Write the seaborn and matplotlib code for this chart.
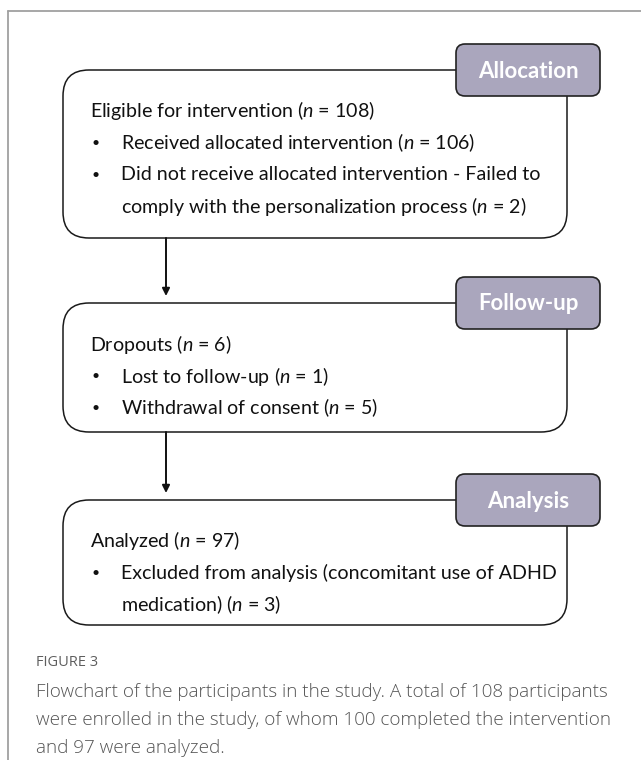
import matplotlib
matplotlib.use("Agg")
import matplotlib.pyplot as plt
import seaborn as sns
from matplotlib.patches import FancyBboxPatch

# flowchart content
stages = ['Allocation', 'Follow-up', 'Analysis']
headers = ['Eligible for intervention ($n$ = 108)',
           'Dropouts ($n$ = 6)',
           'Analyzed ($n$ = 97)']
bullets = [
    ['Received allocated intervention ($n$ = 106)',
     'Did not receive allocated intervention - Failed to\ncomply with the personalization process ($n$ = 2)'],
    ['Lost to follow-up ($n$ = 1)',
     'Withdrawal of consent ($n$ = 5)'],
    ['Excluded from analysis (concomitant use of ADHD\nmedication) ($n$ = 3)'],
]
caption_label = 'FIGURE 3'
caption = ['Flowchart of the participants in the study. A total of 108 participants',
           'were enrolled in the study, of whom 100 completed the intervention',
           'and 97 were analyzed.']

# box layout in pixels (top, bottom)
box_y = [(70, 238), (303, 432), (500, 625)]
box_x = (63, 567)
lab_x = (456, 600)
lab_h = 52
line_h = 32
fs = 14.1

sns.set_style('white')
plt.rcParams['font.family'] = ['Lato', 'DejaVu Sans']
plt.rcParams['mathtext.fontset'] = 'custom'
plt.rcParams['mathtext.rm'] = 'Lato'
plt.rcParams['mathtext.it'] = 'Lato:italic'

fig = plt.figure(figsize=(6.41, 7.6), dpi=100)
ax = fig.add_axes([0, 0, 1, 1])
ax.set_xlim(0, 641)
ax.set_ylim(760, 0)
ax.axis('off')

# outer frame (top and left only)
ax.plot([8, 641], [11, 11], color='#a0a0a0', lw=1.3)
ax.plot([8, 8], [11, 760], color='#a0a0a0', lw=1.3)

for i, (top, bot) in enumerate(box_y):
    box = FancyBboxPatch((box_x[0], top), box_x[1] - box_x[0], bot - top,
                         boxstyle='round,pad=0,rounding_size=26',
                         fc='white', ec='#1a1a1a', lw=1.1, zorder=2)
    ax.add_patch(box)
    lab = FancyBboxPatch((lab_x[0], top - lab_h / 2), lab_x[1] - lab_x[0], lab_h,
                         boxstyle='round,pad=0,rounding_size=9',
                         fc='#aaa6bd', ec='#222222', lw=1.2, zorder=3)
    ax.add_patch(lab)
    ax.text((lab_x[0] + lab_x[1]) / 2, top + 1, stages[i], color='white',
            fontsize=16, fontweight='bold', ha='center', va='center', zorder=4)

    y = top + 41
    ax.text(90, y, headers[i], fontsize=fs, color='#111111', va='center', zorder=4)
    y += line_h
    for b in bullets[i]:
        ax.text(96, y, '\u2022', fontsize=10, color='#111111', ha='center',
                va='center', zorder=4)
        parts = b.split('\n')
        for k, part in enumerate(parts):
            ax.text(121, y + k * line_h, part, fontsize=fs, color='#111111',
                    va='center', zorder=4)
        y += len(parts) * line_h

    if i < len(box_y) - 1:
        ax.annotate('', xy=(166, box_y[i + 1][0] - 7), xytext=(166, bot),
                    arrowprops=dict(arrowstyle='-|>', color='#111111', lw=1.4,
                                    mutation_scale=11, shrinkA=0, shrinkB=0))

ax.text(36, 663, caption_label, fontsize=10.5, color='#5e5e5e', va='center',
        family=['Open Sans', 'DejaVu Sans'])
for k, line in enumerate(caption):
    ax.text(36, 692 + k * 28, line, fontsize=13.6, color='#555555', va='center',
            family=['Open Sans', 'DejaVu Sans'], fontweight='light')

fig.savefig('out.png', dpi=100)
